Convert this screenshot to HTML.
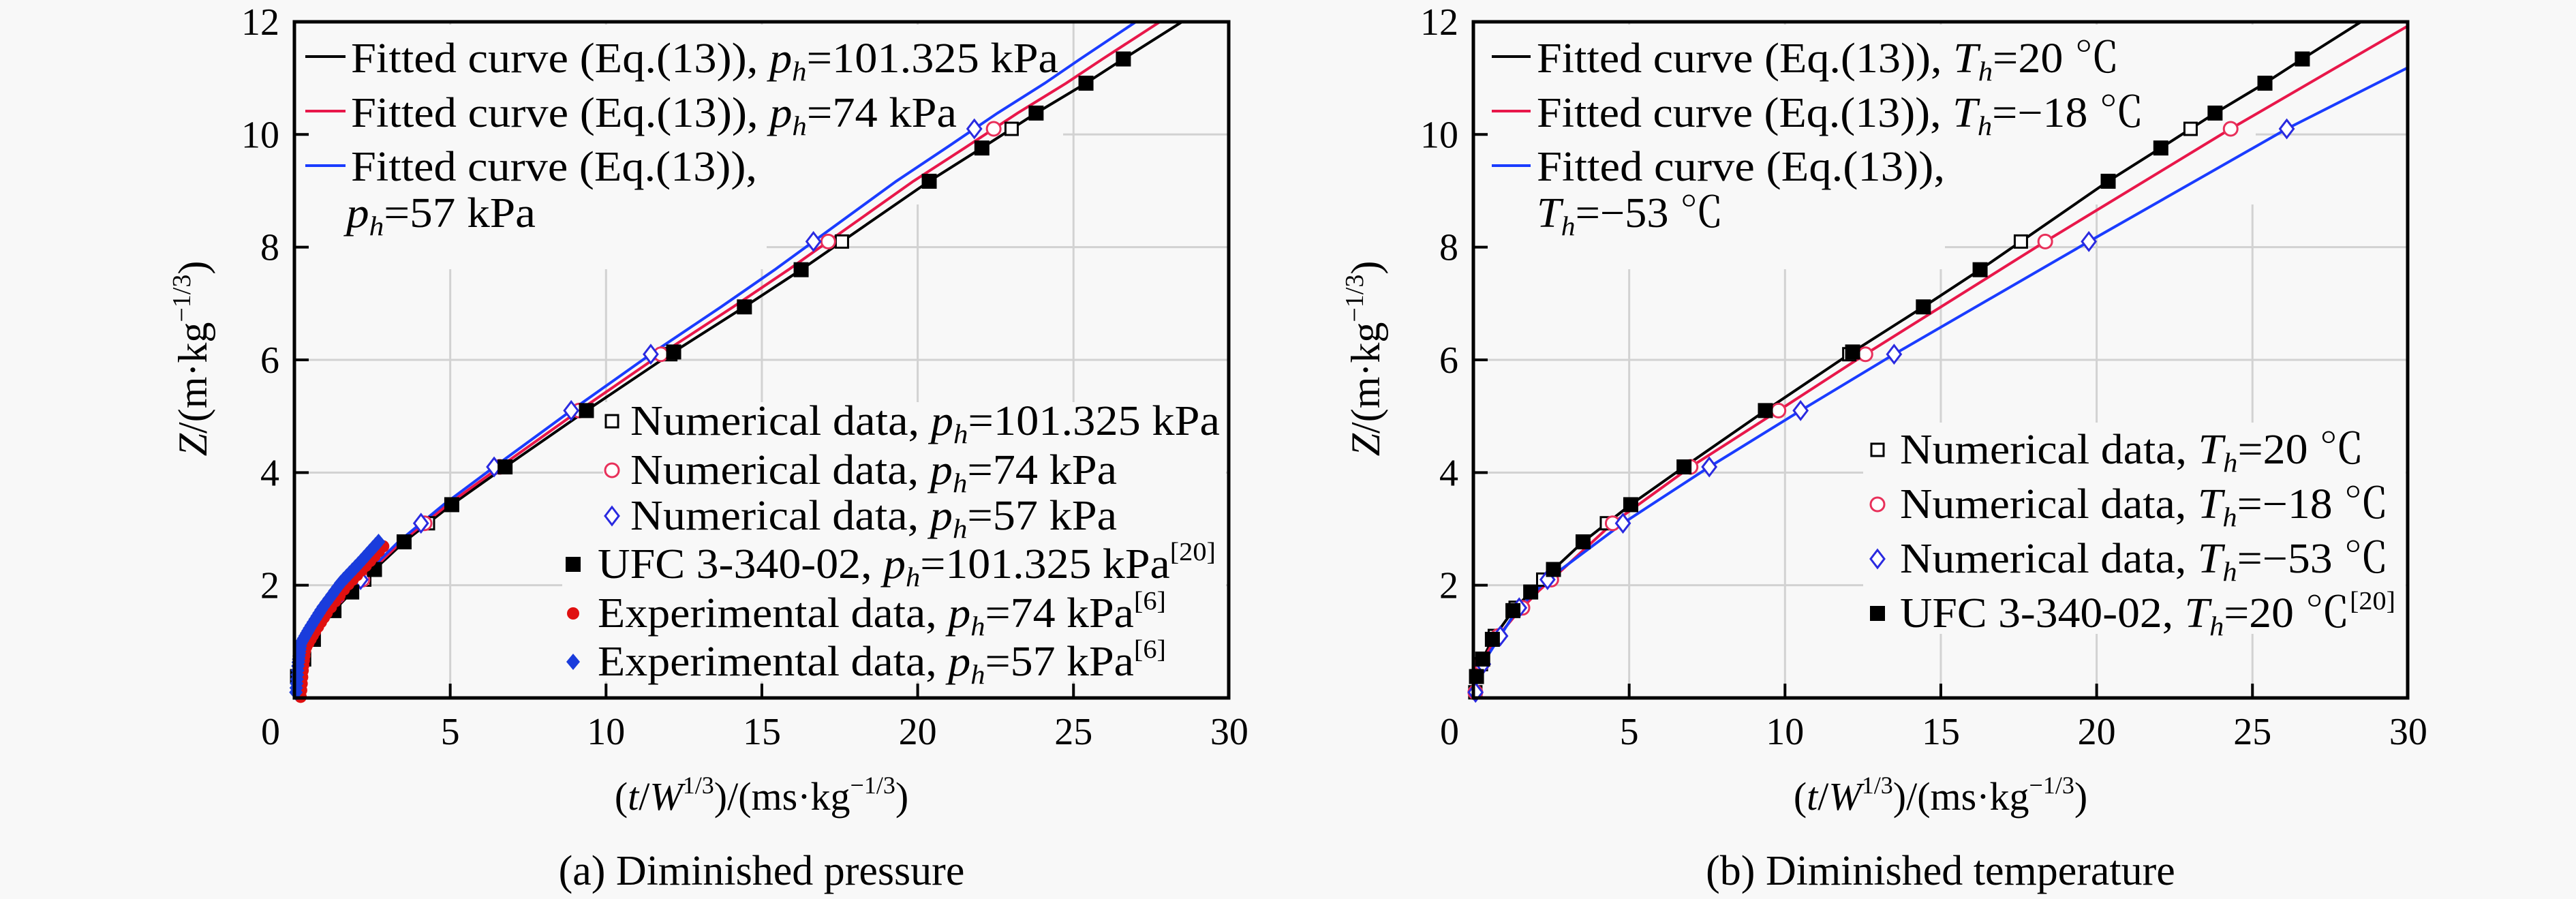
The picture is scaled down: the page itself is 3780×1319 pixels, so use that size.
<!DOCTYPE html>
<html><head><meta charset="utf-8"><style>html,body{margin:0;padding:0;background:#f8f8f8}svg{display:block}svg,text,tspan{font-family:"Liberation Serif","Noto Serif CJK SC",serif;fill:#000}</style></head>
<body>
<svg id="s" xmlns="http://www.w3.org/2000/svg" width="3780" height="1319" viewBox="0 0 3780 1319" font-family="'Liberation Serif','Noto Serif CJK SC',serif">
<rect width="3780" height="1319" fill="#f8f8f8"/>
<defs>
<clipPath id="c0"><rect x="432" y="32" width="1371" height="992"/></clipPath>
<clipPath id="c1"><rect x="2162" y="32" width="1372" height="992"/></clipPath>
</defs>
<g id="g"></g>
</svg>
<script>
const FF=`font-family="'Liberation Serif','Noto Serif CJK SC',serif"`;
const X0=[432,2162],Y0=1024,SX=45.73,SY=82.67;
const px=(p,x)=>X0[p]+x*SX, py=y=>Y0-y*SY;
let o='';
const blk=[[0.05,0],[0.1,0.38],[0.3,0.69],[0.61,1.04],[1.27,1.55],[1.84,1.88],[2.57,2.28],[3.52,2.77],[5.05,3.43],[6.76,4.1],[9.37,5.10],[12.17,6.14],[14.44,6.94],[16.26,7.6],[20.37,9.17],[22.06,9.76],[23.8,10.38],[25.4,10.91],[26.6,11.34],[28.4,11.97],[29.5,12.35]];
const scale=(c,f)=>c.map(([x,y])=>[x*f,y]);
const redL=scale(blk,0.975), bluL=scale(blk,0.948);
const redR=[[0.05,0],[0.1,0.36],[0.3,0.65],[0.65,1.0],[1.4,1.5],[2.1,1.9],[2.9,2.3],[4.47,3.1],[6.97,4.1],[9.79,5.1],[12.58,6.1],[18.35,8.1],[24.3,10.1],[30,11.93]];
const bluR=[[0.05,0],[0.12,0.35],[0.35,0.65],[0.75,1.0],[1.38,1.55],[2.38,2.1],[4.8,3.1],[7.57,4.1],[10.5,5.1],[13.5,6.1],[19.75,8.1],[26.1,10.1],[30,11.19]];
function xAt(c,y){for(let i=1;i<c.length;i++){if(c[i][1]>=y){const a=c[i-1],b=c[i];return a[0]+(b[0]-a[0])*(y-a[1])/(b[1]-a[1]);}}return c[c.length-1][0];}
function line(p,c,col){o+=`<polyline clip-path="url(#c${p})" fill="none" stroke="${col}" stroke-width="4" points="${c.map(([x,y])=>px(p,x).toFixed(1)+','+py(y).toFixed(1)).join(' ')}"/>`;}
const sqO=(x,y)=>`<rect x="${x-9}" y="${y-9}" width="18" height="18" fill="#fff" stroke="#000" stroke-width="3"/>`;
const sqF=(x,y)=>`<rect x="${x-11}" y="${y-11}" width="22" height="22" fill="#000"/>`;
const ciO=(x,y)=>`<circle cx="${x}" cy="${y}" r="10" fill="#fff" stroke="#e8305a" stroke-width="3"/>`;
const diO=(x,y)=>`<polygon points="${x},${y-13} ${x+10},${y} ${x},${y+13} ${x-10},${y}" fill="#fff" stroke="#2a2ae0" stroke-width="3"/>`;
const diF=(x,y)=>`<polygon points="${x},${y-12} ${x+10},${y} ${x},${y+12} ${x-10},${y}" fill="#1a3cdc"/>`;
const ciF=(x,y)=>`<circle cx="${x}" cy="${y}" r="9" fill="#e01010"/>`;
for(let p=0;p<2;p++){
 for(let k=5;k<=25;k+=5)o+=`<line x1="${px(p,k)}" y1="32" x2="${px(p,k)}" y2="1024" stroke="#d2d2d2" stroke-width="3"/>`;
 for(let k=2;k<=10;k+=2)o+=`<line x1="${X0[p]}" y1="${py(k)}" x2="${X0[p]+1371}" y2="${py(k)}" stroke="#d2d2d2" stroke-width="3"/>`;
}
const bg=(x1,y1,x2,y2)=>o+=`<rect x="${x1}" y="${y1}" width="${x2-x1}" height="${y2-y1}" fill="#f8f8f8"/>`;
bg(436,36,1560,300);bg(436,300,1125,395);bg(885,590,1799,790);bg(825,790,1799,1000);
bg(2166,36,3310,300);bg(2166,300,2854,395);bg(2734,620,3530,930);
line(0,blk,'#000');line(0,redL,'#e8174a');line(0,bluL,'#1a3cff');
line(1,blk,'#000');line(1,redR,'#e8174a');line(1,bluR,'#1a3cff');
const ys=[0.1,0.6,1.1,1.6,2.1,3.1,4.1,5.1,6.1,8.1,10.1];
const ufc=blk.slice(1,19);
ys.forEach(y=>{if(y>=2.1){o+=sqO(px(0,xAt(blk,y)),py(y));o+=ciO(px(0,xAt(redL,y)),py(y));o+=diO(px(0,xAt(bluL,y)),py(y));}});
ufc.forEach(([x,y])=>o+=sqF(px(0,x),py(y)));
const ex=[[0.05,0.1],[0.12,0.6],[0.2,0.96],[0.5,1.25],[0.9,1.6],[1.5,2.05],[2.1,2.4],[2.7,2.77]];
function along(c,n,f){for(let i=0;i<=n;i++){const t=i/n*(c.length-1);const k=Math.min(Math.floor(t),c.length-2),u=t-k;const x=c[k][0]+(c[k+1][0]-c[k][0])*u,y=c[k][1]+(c[k+1][1]-c[k][1])*u;f(x,y);}}
along(ex,30,(x,y)=>o+=ciF(px(0,x+0.15),py(y-0.08)));
along(ex,45,(x,y)=>o+=diF(px(0,x),py(y)));
ys.forEach(y=>{o+=sqO(px(1,xAt(blk,y)),py(y));o+=ciO(px(1,xAt(redR,y)),py(y));o+=diO(px(1,xAt(bluR,y)),py(y));});
ufc.forEach(([x,y])=>o+=sqF(px(1,x),py(y)));
for(let p=0;p<2;p++){
 const L=X0[p],R=L+1371;
 for(let k=5;k<=25;k+=5)o+=`<line x1="${px(p,k)}" y1="1024" x2="${px(p,k)}" y2="1003" stroke="#000" stroke-width="4"/>`;
 for(let k=2;k<=10;k+=2)o+=`<line x1="${L}" y1="${py(k)}" x2="${L+21}" y2="${py(k)}" stroke="#000" stroke-width="4"/>`;
 o+=`<rect x="${L}" y="32" width="1371" height="992" fill="none" stroke="#000" stroke-width="5"/>`;
 for(let k=0;k<=30;k+=5)o+=`<text ${FF} x="${k==0?L-35:px(p,k)}" y="1092" font-size="56" text-anchor="middle">${k}</text>`;
 for(let k=2;k<=12;k+=2)o+=`<text ${FF} x="${L-22}" y="${py(k)+19}" font-size="56" text-anchor="end">${k}</text>`;
 const cx=(L+R)/2;
 o+=`<text ${FF} x="${cx}" y="1188" font-size="58" text-anchor="middle">(<tspan ${FF} font-style="italic">t</tspan>/<tspan ${FF} font-style="italic">W</tspan><tspan ${FF} font-size="36" dy="-24">1/3</tspan><tspan ${FF} dy="24">)/(ms·kg</tspan><tspan ${FF} font-size="36" dy="-24">−1/3</tspan><tspan ${FF} dy="24">)</tspan></text>`;
 o+=`<text ${FF} x="${cx}" y="1298" font-size="62" text-anchor="middle">${p?'(b) Diminished temperature':'(a) Diminished pressure'}</text>`;
 const yx=p?2024:303;
 o+=`<text ${FF} transform="translate(${yx},526) rotate(-90)" font-size="60" text-anchor="middle"><tspan ${FF} font-style="italic">Z</tspan>/(m·kg<tspan ${FF} font-size="38" dy="-24">−1/3</tspan><tspan ${FF} dy="24">)</tspan></text>`;
}
const sub=(v,s,rest)=>`<tspan ${FF} font-style="italic">${v}</tspan><tspan ${FF} font-style="italic" font-size="40" dy="12">${s}</tspan><tspan ${FF} dy="-12">${rest}</tspan>`;
const sup=r=>`<tspan ${FF} font-size="38" dy="-26">[${r}]</tspan>`;
const T=(x,y,len,c)=>o+=`<text ${FF} x="${x}" y="${y}" font-size="62" textLength="${len}" lengthAdjust="spacingAndGlyphs">${c}</text>`;
const seg=(x1,x2,y,col)=>o+=`<line x1="${x1}" y1="${y}" x2="${x2}" y2="${y}" stroke="${col}" stroke-width="4"/>`;
seg(448,507,83,'#000');seg(448,507,163,'#e8174a');seg(448,507,243,'#1a3cff');
T(515,106,1038,'Fitted curve (Eq.(13)), '+sub('p','h','=101.325 kPa'));
T(515,186,889,'Fitted curve (Eq.(13)), '+sub('p','h','=74 kPa'));
T(515,265,596,'Fitted curve (Eq.(13)),');
T(508,333,278,sub('p','h','=57 kPa'));
o+=sqO(898,618)+ciO(898,690)+diO(898,757)+sqF(841,828)+ciF(841,900)+diF(841,971);
T(925,638,865,'Numerical data, '+sub('p','h','=101.325 kPa'));
T(925,710,714,'Numerical data, '+sub('p','h','=74 kPa'));
T(925,777,714,'Numerical data, '+sub('p','h','=57 kPa'));
T(877,848,907,'UFC 3-340-02, '+sub('p','h','=101.325 kPa')+sup(20));
T(877,920,834,'Experimental data, '+sub('p','h','=74 kPa')+sup(6));
T(877,991,834,'Experimental data, '+sub('p','h','=57 kPa')+sup(6));
seg(2189,2246,83,'#000');seg(2189,2246,163,'#e8174a');seg(2189,2246,243,'#1a3cff');
T(2255,106,855,'Fitted curve (Eq.(13)), '+sub('T','h','=20 ℃'));
T(2255,186,891,'Fitted curve (Eq.(13)), '+sub('T','h','=−18 ℃'));
T(2255,265,599,'Fitted curve (Eq.(13)),');
T(2255,333,274,sub('T','h','=−53 ℃'));
o+=sqO(2755,660)+ciO(2755,740)+diO(2755,820)+sqF(2755,900);
T(2788,680,681,'Numerical data, '+sub('T','h','=20 ℃'));
T(2788,760,717,'Numerical data, '+sub('T','h','=−18 ℃'));
T(2788,840,717,'Numerical data, '+sub('T','h','=−53 ℃'));
T(2788,920,727,'UFC 3-340-02, '+sub('T','h','=20 ℃')+sup(20));
document.getElementById('g').innerHTML=o;
</script>
</body></html>
